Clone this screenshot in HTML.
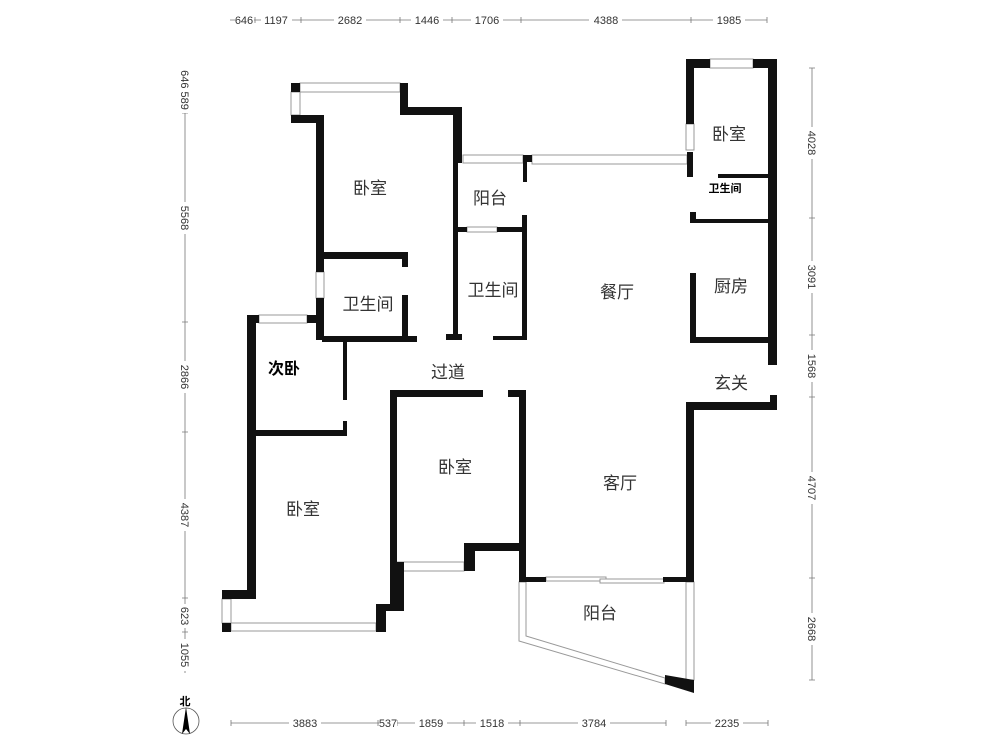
<!DOCTYPE html>
<html><head><meta charset="utf-8"><style>
html,body{margin:0;padding:0;background:#fff}
svg{display:block}
.t{font-family:"Liberation Sans","Noto Sans CJK SC",sans-serif;font-size:17px;fill:#333}
.d{font-family:"Liberation Sans","Noto Sans CJK SC",sans-serif;font-size:11px;fill:#333}
.w{fill:#111}
.win{fill:#fff;stroke:#999;stroke-width:1}
.dl{stroke:#777;stroke-width:0.8;fill:none}
</style></head><body>
<svg width="1000" height="750" viewBox="0 0 1000 750" xmlns="http://www.w3.org/2000/svg">
<rect class="win" x="300" y="83" width="100" height="9"/>
<rect class="win" x="291" y="92" width="9" height="23"/>
<rect class="win" x="316" y="272" width="8" height="26"/>
<rect class="win" x="259" y="315" width="48" height="8"/>
<rect class="win" x="463" y="155" width="60" height="8"/>
<rect class="win" x="532" y="155" width="155" height="9"/>
<rect class="win" x="467" y="227" width="30" height="5"/>
<rect class="win" x="710" y="59" width="43" height="9"/>
<rect class="win" x="686" y="124" width="8" height="26"/>
<rect class="win" x="222" y="599" width="9" height="24"/>
<rect class="win" x="231" y="623" width="145" height="8"/>
<rect class="win" x="397" y="562" width="67" height="9"/>
<rect class="win" x="546" y="577" width="60" height="4"/>
<rect class="win" x="600" y="579" width="64" height="4"/>
<rect class="win" x="686" y="582" width="8" height="98"/>
<polygon class="win" points="519,582 526,582 526,636 665,678 665,684 519,641"/>
<g class="w">
<rect x="291" y="83" width="9" height="9"/>
<rect x="400" y="83" width="8" height="30"/>
<rect x="400" y="107" width="62" height="8"/>
<rect x="453" y="107" width="9" height="56"/>
<rect x="453" y="163" width="5" height="175"/>
<rect x="446" y="334" width="16" height="6"/>
<rect x="291" y="115" width="33" height="8"/>
<rect x="316" y="115" width="8" height="157"/>
<rect x="316" y="298" width="8" height="42"/>
<rect x="307" y="315" width="17" height="8"/>
<rect x="324" y="252" width="84" height="7"/>
<rect x="402" y="252" width="6" height="15"/>
<rect x="402" y="295" width="6" height="42"/>
<rect x="322" y="336" width="95" height="6"/>
<rect x="343" y="342" width="4" height="58"/>
<rect x="343" y="421" width="4" height="15"/>
<rect x="247" y="315" width="12" height="8"/>
<rect x="247" y="315" width="9" height="283"/>
<rect x="249" y="430" width="98" height="6"/>
<rect x="458" y="227" width="9" height="5"/>
<rect x="497" y="227" width="30" height="5"/>
<rect x="522" y="215" width="5" height="125"/>
<rect x="493" y="336" width="34" height="4"/>
<rect x="523" y="155" width="9" height="7"/>
<rect x="523" y="155" width="4" height="27"/>
<rect x="687" y="152" width="6" height="25"/>
<rect x="686" y="59" width="24" height="9"/>
<rect x="753" y="59" width="24" height="9"/>
<rect x="686" y="59" width="8" height="65"/>
<rect x="768" y="59" width="9" height="306"/>
<rect x="718" y="174" width="54" height="4"/>
<rect x="690" y="212" width="6" height="11"/>
<rect x="690" y="219" width="80" height="4"/>
<rect x="690" y="273" width="6" height="70"/>
<rect x="690" y="337" width="83" height="6"/>
<rect x="686" y="402" width="91" height="8"/>
<rect x="770" y="395" width="7" height="15"/>
<rect x="686" y="402" width="8" height="180"/>
<rect x="663" y="577" width="31" height="5"/>
<rect x="222" y="590" width="34" height="9"/>
<rect x="222" y="623" width="9" height="9"/>
<rect x="376" y="604" width="10" height="28"/>
<rect x="376" y="604" width="28" height="7"/>
<rect x="390" y="562" width="14" height="49"/>
<rect x="390" y="390" width="7" height="172"/>
<rect x="390" y="390" width="93" height="7"/>
<rect x="508" y="390" width="18" height="7"/>
<rect x="519" y="390" width="7" height="192"/>
<rect x="464" y="543" width="11" height="28"/>
<rect x="464" y="543" width="62" height="8"/>
<rect x="526" y="577" width="20" height="5"/>
<polygon points="665,675 694,680 694,693 665,684"/>
</g>
<text class="t" x="370" y="194" text-anchor="middle">卧室</text>
<text class="t" x="490" y="204" text-anchor="middle">阳台</text>
<text class="t" x="368" y="310" text-anchor="middle">卫生间</text>
<text class="t" x="493" y="296" text-anchor="middle">卫生间</text>
<text class="t" x="617" y="298" text-anchor="middle">餐厅</text>
<text class="t" x="729" y="140" text-anchor="middle">卧室</text>
<text x="725" y="192" text-anchor="middle" style="font-family:'Liberation Sans','Noto Sans CJK SC',sans-serif;font-size:11px;font-weight:bold;fill:#000">卫生间</text>
<text class="t" x="731" y="292" text-anchor="middle">厨房</text>
<text x="284" y="374" text-anchor="middle" style="font-family:'Liberation Sans','Noto Sans CJK SC',sans-serif;font-size:16px;font-weight:bold;fill:#000">次卧</text>
<text class="t" x="448" y="378" text-anchor="middle">过道</text>
<text class="t" x="731" y="389" text-anchor="middle">玄关</text>
<text class="t" x="455" y="473" text-anchor="middle">卧室</text>
<text class="t" x="620" y="489" text-anchor="middle">客厅</text>
<text class="t" x="303" y="515" text-anchor="middle">卧室</text>
<text class="t" x="600" y="619" text-anchor="middle">阳台</text>
<g class="dl"><line x1="230" y1="20" x2="767" y2="20"/><path d="M255 17v6M301 17v6M400 17v6M452 17v6M521 17v6M691 17v6M767 17v6"/></g>
<g class="d" text-anchor="middle">
<rect x="235" y="13" width="19" height="13" fill="#fff"/><text x="244" y="24">646</text>
<rect x="261" y="13" width="31" height="13" fill="#fff"/><text x="276" y="24">1197</text>
<rect x="334" y="13" width="32" height="13" fill="#fff"/><text x="350" y="24">2682</text>
<rect x="411" y="13" width="32" height="13" fill="#fff"/><text x="427" y="24">1446</text>
<rect x="471" y="13" width="32" height="13" fill="#fff"/><text x="487" y="24">1706</text>
<rect x="589" y="13" width="33" height="13" fill="#fff"/><text x="606" y="24">4388</text>
<rect x="713" y="13" width="32" height="13" fill="#fff"/><text x="729" y="24">1985</text>
</g>
<g class="dl"><line x1="231" y1="723" x2="666" y2="723"/><line x1="686" y1="723" x2="768" y2="723"/>
<path d="M231 720v6M378 720v6M397 720v6M464 720v6M520 720v6M666 720v6M686 720v6M768 720v6"/></g>
<g class="d" text-anchor="middle">
<rect x="289" y="716" width="32" height="13" fill="#fff"/><text x="305" y="727">3883</text>
<rect x="379" y="716" width="18" height="13" fill="#fff"/><text x="388" y="727">537</text>
<rect x="415" y="716" width="32" height="13" fill="#fff"/><text x="431" y="727">1859</text>
<rect x="476" y="716" width="32" height="13" fill="#fff"/><text x="492" y="727">1518</text>
<rect x="578" y="716" width="32" height="13" fill="#fff"/><text x="594" y="727">3784</text>
<rect x="711" y="716" width="32" height="13" fill="#fff"/><text x="727" y="727">2235</text>
</g>
<g class="dl"><line x1="185" y1="68" x2="185" y2="673"/><path d="M182 113h6M182 322h6M182 432h6M182 598h6M182 632h6"/></g>
<g class="d" text-anchor="middle">
<g transform="translate(185,90) rotate(90)"><rect x="-23" y="-6" width="46" height="13" fill="#fff"/><text x="0" y="4">646 589</text></g>
<g transform="translate(185,218) rotate(90)"><rect x="-16" y="-6" width="32" height="13" fill="#fff"/><text x="0" y="4">5568</text></g>
<g transform="translate(185,377) rotate(90)"><rect x="-16" y="-6" width="32" height="13" fill="#fff"/><text x="0" y="4">2866</text></g>
<g transform="translate(185,515) rotate(90)"><rect x="-16" y="-6" width="32" height="13" fill="#fff"/><text x="0" y="4">4387</text></g>
<g transform="translate(185,616) rotate(90)"><rect x="-12" y="-6" width="24" height="13" fill="#fff"/><text x="0" y="4">623</text></g>
<g transform="translate(185,655) rotate(90)"><rect x="-16" y="-6" width="32" height="13" fill="#fff"/><text x="0" y="4">1055</text></g>
</g>
<g class="dl"><line x1="812" y1="68" x2="812" y2="680"/><path d="M809 68h6M809 218h6M809 335h6M809 397h6M809 578h6M809 680h6"/></g>
<g class="d" text-anchor="middle">
<g transform="translate(812,143) rotate(90)"><rect x="-16" y="-6" width="32" height="13" fill="#fff"/><text x="0" y="4">4028</text></g>
<g transform="translate(812,277) rotate(90)"><rect x="-16" y="-6" width="32" height="13" fill="#fff"/><text x="0" y="4">3091</text></g>
<g transform="translate(812,366) rotate(90)"><rect x="-16" y="-6" width="32" height="13" fill="#fff"/><text x="0" y="4">1568</text></g>
<g transform="translate(812,488) rotate(90)"><rect x="-16" y="-6" width="32" height="13" fill="#fff"/><text x="0" y="4">4707</text></g>
<g transform="translate(812,629) rotate(90)"><rect x="-16" y="-6" width="32" height="13" fill="#fff"/><text x="0" y="4">2668</text></g>
</g>
<text x="185" y="705" text-anchor="middle" style="font-family:'Liberation Sans','Noto Sans CJK SC',sans-serif;font-size:11px;font-weight:bold;fill:#000">北</text>
<circle cx="186" cy="721" r="13" fill="none" stroke="#555" stroke-width="0.8"/>
<polygon points="186,707 182,734 186,729 190,734" fill="#000"/>
</svg>
</body></html>
